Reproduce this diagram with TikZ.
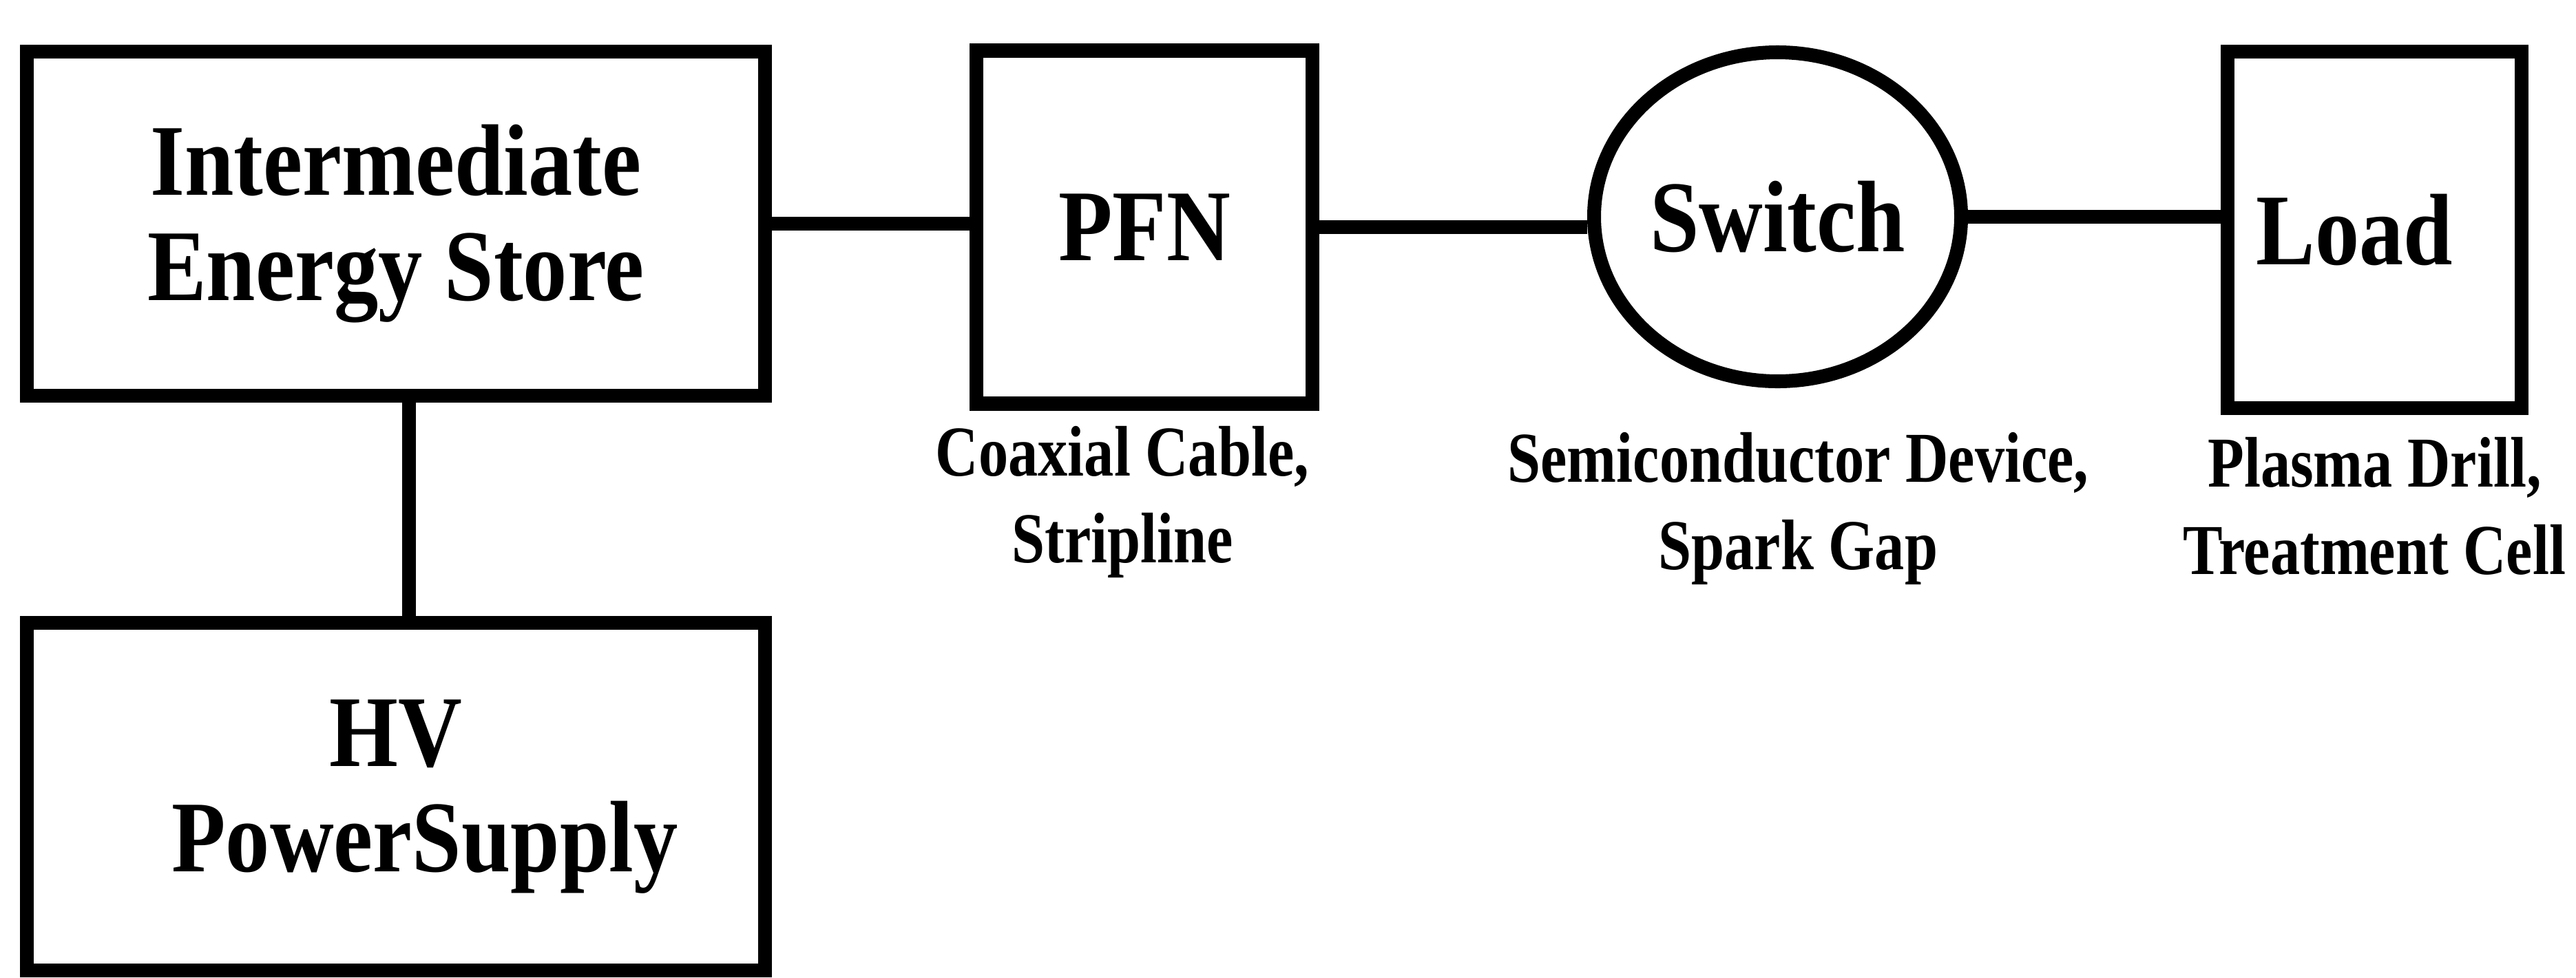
\documentclass[tikz,border=0pt]{standalone}
\usepackage{fontspec}
\setmainfont{Liberation Serif}
\newfontfamily\blkfont[FakeStretch=0.87]{Liberation Serif Bold}
\newfontfamily\notefont[FakeStretch=0.83]{Liberation Serif Bold}
\usetikzlibrary{positioning,shapes.geometric}
\tikzset{
  blk/.style={draw,line width=5.7pt,inner sep=0pt,align=center,
    font=\blkfont\fontsize{42}{43.3}\selectfont},
  oval/.style={blk,ellipse},
  note/.style={inner sep=0pt,align=center,font=\notefont\fontsize{29.6}{36}\selectfont},
  wire/.style={line width=5.7pt}}

\begin{document}
\begin{tikzpicture}
\useasboundingbox (0,0) rectangle (37.41,-14.2);
% charging side: store above its supply
\node[blk,minimum width=10.72cm,minimum height=5cm] (ies) at (5.75,-3.25) {Intermediate\\Energy Store};
\node[blk,minimum width=10.72cm,minimum height=5.05cm] (hv) at (5.75,-11.575) {HV\\\hspace*{0.84cm}PowerSupply};
% pulse path
\node[blk,minimum width=4.88cm,minimum height=5.13cm] (pfn) at (16.62,-3.3) {PFN};
\node[oval,minimum width=5.33cm,minimum height=4.78cm] (sw) at (25.815,-3.15) {Switch};
\node[blk,minimum width=4.27cm,minimum height=5.18cm] (load) at (34.485,-3.34) {Load\hspace*{5.8mm}};
% typical realisations under each stage
\node[note,below=0.22cm of pfn,xshift=-3.2mm] (pfnnote) {Coaxial Cable,\\Stripline};
\node[note,below=0.64cm of sw,xshift=3mm] (swnote) {Semiconductor Device,\\Spark Gap};
\node[note,below=0.32cm of load] (loadnote) {Plasma Drill,\\Treatment Cell};
\draw[wire] ([xshift=1.9mm]ies.south) -- ([xshift=1.9mm]hv.north);
\draw[wire] (ies.east) -- (ies.east -| pfn.west) (pfn.east) -- (pfn.east -| sw.west)
  (sw.east) -- (sw.east -| load.west);
\end{tikzpicture}
\end{document}
